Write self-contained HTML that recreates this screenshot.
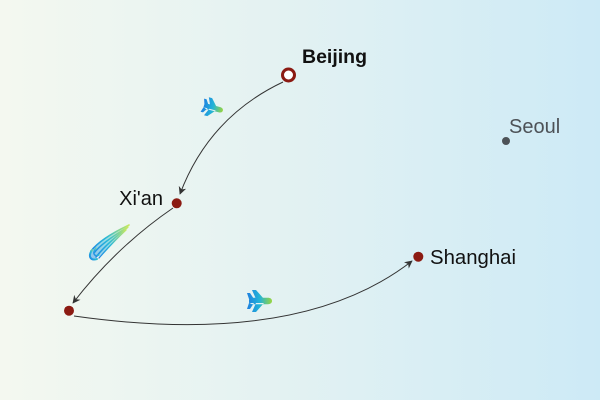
<!DOCTYPE html>
<html><head><meta charset="utf-8"><style>
html,body{margin:0;padding:0;}
body{width:600px;height:400px;overflow:hidden;background:linear-gradient(90deg,#f4f8f0 0%,#e4f2f2 45%,#cdeaf6 100%);}
svg{display:block;}
</style></head><body>
<svg width="600" height="400" viewBox="0 0 600 400" xmlns="http://www.w3.org/2000/svg">
<defs>
<marker id="ar" viewBox="0 0 10 10" refX="9" refY="5" markerWidth="8" markerHeight="8" markerUnits="userSpaceOnUse" orient="auto">
<path d="M0,0 L10,5 L0,10 L3,5 Z" fill="#333"/>
</marker>
<linearGradient id="g0" x1="0" y1="0" x2="1" y2="0">
<stop offset="0" stop-color="#1e7fe0"/><stop offset="0.5" stop-color="#22b3d8"/><stop offset="1" stop-color="#9ad63e"/>
</linearGradient>
<linearGradient id="gt" x1="0" y1="1" x2="1" y2="0">
<stop offset="0" stop-color="#1f86e6"/><stop offset="0.45" stop-color="#27b8d8"/><stop offset="1" stop-color="#c8e860"/>
</linearGradient>
</defs>

<!-- connectors -->
<path d="M283,82 Q209,117 180,194" fill="none" stroke="#333" stroke-width="1" marker-end="url(#ar)"/>
<path d="M173,208 Q116,247 73,303" fill="none" stroke="#333" stroke-width="1" marker-end="url(#ar)"/>
<path d="M74,316 Q300,348 412,261" fill="none" stroke="#333" stroke-width="1" marker-end="url(#ar)"/>

<!-- plane 1 -->
<g transform="translate(213,108) rotate(15) scale(0.85)">
<path fill="url(#g0)" d="M12,0 C12,-2.2 10,-3.2 8,-3.2 L-8,-3.2 L-11,-1.8 L-11,1.8 L-8,3.2 L8,3.2 C10,3.2 12,2.2 12,0 Z M4,-2 L-4,-11 L-8,-11 L-4,-2 Z M4,2 L-4,11 L-8,11 L-4,2 Z M-6,-2 L-10,-8 L-13,-8 L-11,-2 Z M-6,2 L-10,8 L-13,8 L-11,2 Z"/>
</g>

<!-- plane 3 -->
<g transform="translate(260,301)">
<path fill="url(#g0)" d="M12,0 C12,-2.2 10,-3.2 8,-3.2 L-8,-3.2 L-11,-1.8 L-11,1.8 L-8,3.2 L8,3.2 C10,3.2 12,2.2 12,0 Z M4,-2 L-4,-11 L-8,-11 L-4,-2 Z M4,2 L-4,11 L-8,11 L-4,2 Z M-6,-2 L-10,-8 L-13,-8 L-11,-2 Z M-6,2 L-10,8 L-13,8 L-11,2 Z"/>
</g>

<!-- train -->
<g fill="none" stroke="url(#gt)" stroke-linecap="round">
<path d="M129,225 C114,232 100,240 92,249 C87,255 90,260 96,258 C108,250 119,238 129,225 Z" fill="url(#gt)" stroke="none" opacity="0.45"/>
<path d="M129,225 C112,233 98,242 91,251" stroke-width="1.6"/>
<path d="M128,227 C113,236 100,245 94,253" stroke-width="1.5"/>
<path d="M127,228 C114,238 103,248 96,257" stroke-width="1.5"/>
<path d="M126,230 C115,240 106,250 99,258" stroke-width="1.3"/>
<path d="M92,250 C88,256 90,261 97,259" stroke-width="2"/>
<path d="M96,248 C92,253 94,257 99,255" stroke-width="1.4"/>
</g>

<!-- nodes -->
<circle cx="288.5" cy="75" r="6" fill="#ffffff" stroke="#8b1a12" stroke-width="3"/>
<circle cx="176.7" cy="203.3" r="5" fill="#8b1a12"/>
<circle cx="69" cy="310.7" r="5" fill="#8b1a12"/>
<circle cx="418.3" cy="256.7" r="5" fill="#8b1a12"/>
<circle cx="506" cy="141" r="4" fill="#4d5257"/>

<!-- labels -->
<g font-family="'Liberation Sans', sans-serif">
<text x="302" y="63" font-size="19.5" font-weight="bold" fill="#111">Beijing</text>
<text x="163" y="205" font-size="20" text-anchor="end" fill="#111">Xi'an</text>
<text x="430" y="264" font-size="20" fill="#111" textLength="86" lengthAdjust="spacingAndGlyphs">Shanghai</text>
<text x="509" y="133" font-size="20" fill="#4d5257">Seoul</text>
</g>
</svg>
</body></html>
